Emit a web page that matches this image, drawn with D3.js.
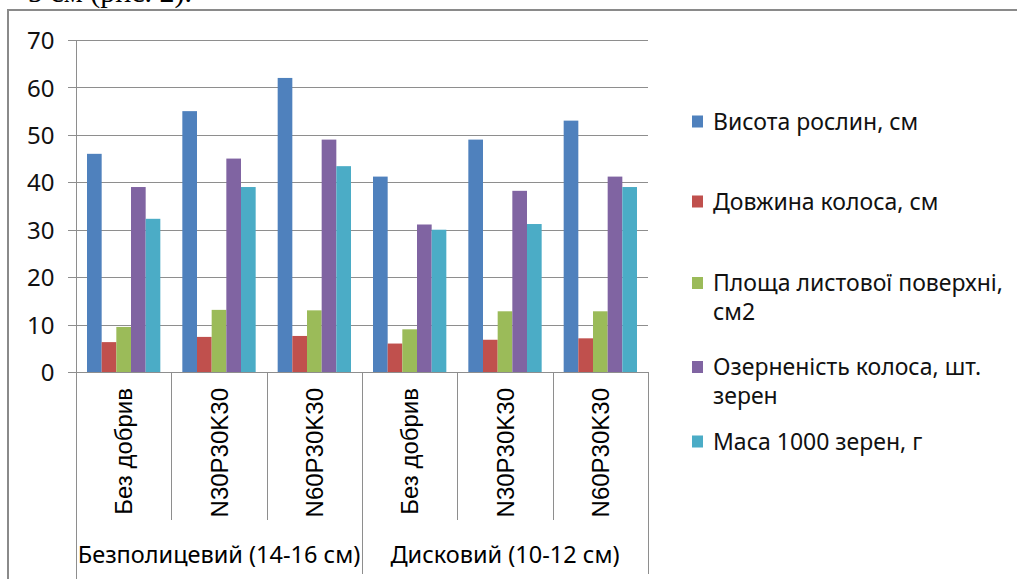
<!DOCTYPE html>
<html><head><meta charset="utf-8">
<script src="https://cdn.jsdelivr.net/npm/d3@7"></script>
<style>
html,body{margin:0;padding:0;background:#fff;}
svg{display:block;}
</style>
</head><body>
<svg id="chart" width="1017" height="579"></svg>
<script>
const categories = ["Без добрив","N30P30K30","N60P30K30","Без добрив","N30P30K30","N60P30K30"];
const groups = ["Безполицевий (14-16 см)","Дисковий (10-12 см)"];
const seriesNames = ["Висота рослин, см","Довжина колоса, см","Площа листової поверхні, см2","Озерненість колоса, шт. зерен","Маса 1000 зерен, г"];
const legendLines = [["Висота рослин, см"],["Довжина колоса, см"],["Площа листової поверхні,","см2"],["Озерненість колоса, шт.","зерен"],["Маса 1000 зерен, г"]];
const plantHeight = [46, 55, 62, 41.2, 49, 53];
const spikeLength = [6.3, 7.4, 7.6, 6.0, 6.8, 7.1];
const leafArea = [9.5, 13.1, 13, 9.0, 12.8, 12.8];
const grainsPerSpike = [39, 45, 49, 31.1, 38.2, 41.2];
const mass1000 = [32.3, 39, 43.4, 30, 31.2, 39];
const yTicks = [0,10,20,30,40,50,60,70];
const colors = ["#4F81BD","#C0504D","#9BBB59","#8064A2","#4BACC6"];

const seriesValues = [plantHeight, spikeLength, leafArea, grainsPerSpike, mass1000];

const svg = d3.select("#chart");
const L = 76, R = 648, T = 40, B = 372;
const gridColor = "#8e8e8e";

// cut-off document text above chart
svg.append("text").attr("x", 192).attr("y", 2).attr("text-anchor","end")
  .attr("font-family","Liberation Serif").attr("font-size", 30).attr("fill","#000")
  .text("5 см (рис. 2).");

// outer border
svg.append("path").attr("d", `M8,579 L8,10 L1017,10`).attr("fill","none")
  .attr("stroke","#8a8a8a").attr("stroke-width",2);

const x = d3.scaleBand().domain(d3.range(categories.length)).range([L, R]).padding(0);
const xs = d3.scaleBand().domain(d3.range(seriesNames.length)).range([0, x.bandwidth()]).paddingInner(0).paddingOuter(0.75);
const y = d3.scaleLinear().domain([0,70]).range([B, T]);

// gridlines
svg.append("g").selectAll("line").data(yTicks).join("line")
  .attr("x1", L - 8).attr("x2", R).attr("y1", d => Math.round(y(d))+0.5).attr("y2", d => Math.round(y(d))+0.5)
  .attr("stroke", gridColor).attr("stroke-width", 1);

// y axis
const yAxis = d3.axisLeft(y).tickValues(yTicks).tickSize(8).tickPadding(14);
const ya = svg.append("g").attr("transform", `translate(${L+0.5},0)`).call(yAxis);
ya.select(".domain").remove();
ya.selectAll(".tick line").remove();
ya.selectAll("text").attr("font-family","Noto Sans").attr("font-size", 24).attr("fill","#111").attr("dy","0.36em");

// bars
const gBars = svg.append("g");
seriesValues.forEach((vals, si) => {
  gBars.selectAll(null).data(vals).join("rect")
    .attr("x", (d,i) => x(i) + xs(si))
    .attr("width", xs.bandwidth())
    .attr("y", d => y(d))
    .attr("height", d => y(0) - y(d))
    .attr("fill", colors[si]);
});

// axis lines
svg.append("line").attr("x1", L+0.5).attr("x2", L+0.5).attr("y1", T).attr("y2", 579).attr("stroke", gridColor);
svg.append("line").attr("x1", L-8).attr("x2", R).attr("y1", Math.round(y(0))+0.5).attr("y2", Math.round(y(0))+0.5).attr("stroke", gridColor);

// category dividers
const bounds = d3.range(1, categories.length+1).map(i => i < categories.length ? x(i) : R);
svg.append("g").selectAll("line").data(bounds).join("line")
  .attr("x1", d => Math.round(d)+0.5).attr("x2", d => Math.round(d)+0.5)
  .attr("y1", y(0))
  .attr("y2", (d,i) => ((i+1) % 3 === 0) ? 574 : 520)
  .attr("stroke", gridColor);

// category labels
svg.append("g").selectAll("text").data(categories).join("text")
  .attr("transform", (d,i) => `translate(${x(i) + x.bandwidth()/2},388) rotate(-90)`)
  .attr("text-anchor","end").attr("dy","0.36em")
  .attr("font-family","Liberation Sans").attr("font-size", 24).attr("fill","#000")
  .text(d => d);

// group labels
svg.append("g").selectAll("text").data(groups).join("text")
  .attr("x", (d,i) => (x(i*3) + (i*3+3 < categories.length ? x(i*3+3) : R)) / 2)
  .attr("y", 563).attr("text-anchor","middle")
  .attr("font-family","Noto Sans").attr("font-size", 23.5).attr("fill","#000")
  .text(d => d);

// legend
const legendY = [121.5, 201.5, 283, 367, 441.5];
const lg = svg.append("g");
legendLines.forEach((lines, i) => {
  lg.append("rect").attr("x", 692).attr("y", legendY[i]-6).attr("width", 11).attr("height", 12).attr("fill", colors[i]);
  const t = lg.append("text").attr("font-family","Noto Sans").attr("font-size", 23).attr("fill","#111");
  lines.forEach((ln, j) => {
    t.append("tspan").attr("x", 713).attr("y", legendY[i] + j*29).attr("dy","0.36em").text(ln);
  });
});
</script>
</body></html>
